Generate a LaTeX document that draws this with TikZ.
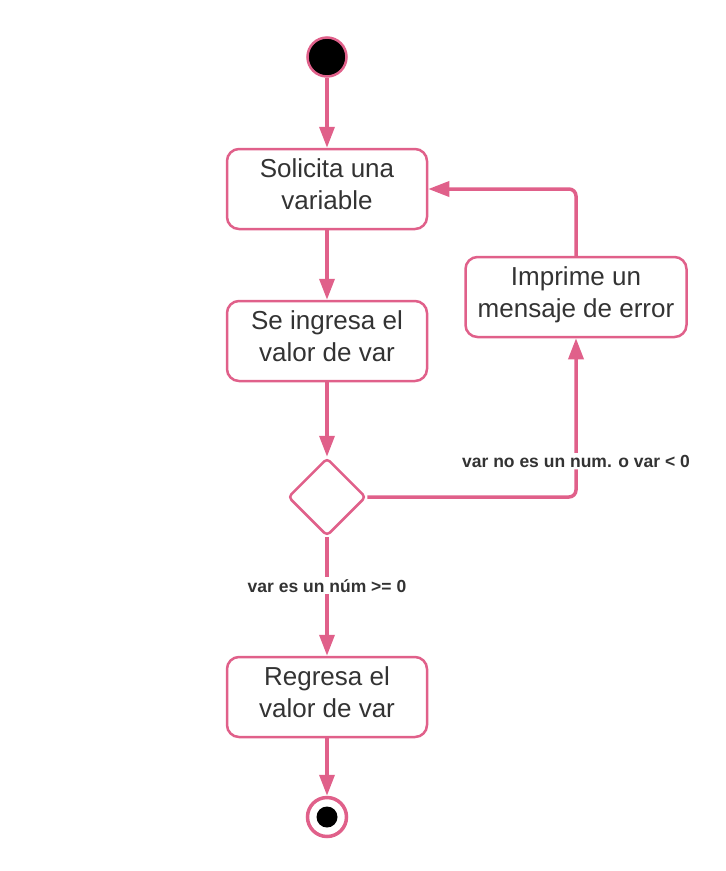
\documentclass[tikz,border=0pt]{standalone}
\usepackage{fontspec}
\setmainfont{Liberation Sans}
\usetikzlibrary{arrows.meta,positioning,shapes.geometric}
\definecolor{rosa}{RGB}{224,96,138}
\definecolor{texto}{RGB}{51,51,51}

\begin{document}
\begin{tikzpicture}[x=1pt, y=1pt, node distance=152pt, on grid,
    actividad/.style={draw=rosa, line width=2.5pt, rounded corners=12pt, text=texto,
        minimum width=200pt, minimum height=80pt, align=center, text depth=9pt,
        font=\fontsize{26}{32}\selectfont},
    decision/.style={diamond, draw=rosa, line width=2.5pt, rounded corners=4pt,
        minimum width=78pt, minimum height=78pt, inner sep=0pt},
    inicio/.style={circle, draw=rosa, fill=black, line width=2.5pt, minimum size=39pt, inner sep=0pt},
    fin/.style={circle, draw=rosa, line width=3.5pt, minimum size=39pt, inner sep=0pt,
        path picture={\fill[black] (path picture bounding box.center) circle (10.5pt);}},
    guarda/.style={fill=white, text=texto, inner sep=2pt,
        font=\bfseries\fontsize{17.5}{20}\selectfont},
    flujo/.style={->, draw=rosa, line width=3.5pt, >={Triangle[length=21pt,width=15pt]}}]
    \useasboundingbox (0,0) rectangle (726,-871);

    \node[inicio] (ini) at (327,-57) {};
    \node[actividad] (sol) [below=132pt of ini] {Solicita una\\variable};
    \node[actividad] (ing) [below=of sol] {Se ingresa el\\valor de var};
    \node[decision] (dec) [below=156pt of ing] {};
    \node[actividad] (reg) [below=200pt of dec] {Regresa el\\valor de var};
    \node[fin] (fin) [below=120pt of reg] {};
    \node[actividad, minimum width=221pt] (err) [above right=44pt and 249pt of ing] {Imprime un\\mensaje de error};

    \draw[flujo] (ini) -- (sol);
    \draw[flujo] (sol) -- (ing);
    \draw[flujo] (ing) -- (dec);
    \draw[flujo] (dec) -- node[guarda, pos=0.41] {var es un núm >= 0} (reg);
    \draw[flujo] (reg) -- (fin);
    \draw[flujo, rounded corners=7pt] (dec.east) -| node[guarda, pos=0.6125] {var no es un num. o var < 0} (err.south);
    \draw[flujo, rounded corners=7pt] (err.north) |- (sol.east);
\end{tikzpicture}
\end{document}
